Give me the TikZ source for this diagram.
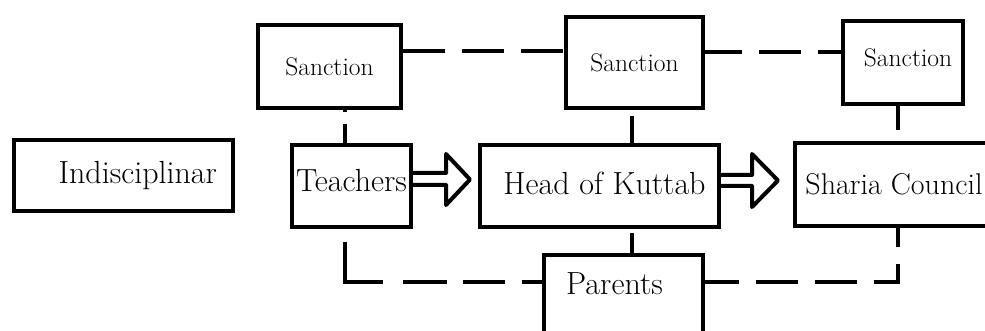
\documentclass[tikz,border=0pt]{standalone}
\usepackage{tikz}

\tikzset{
  txt/.style={font=\fontsize{32}{36}\selectfont},
  stxt/.style={font=\fontsize{25.5}{30}\selectfont},
  box/.style={draw, line width=4pt, inner sep=2pt, txt},
  sancbox/.style={box, stxt},
  dashline/.style={line width=4pt, dash pattern=on 42pt off 17pt},
  blockarrow/.style={line width=4pt, line join=round}
}

\begin{document}
\begin{tikzpicture}[x=1pt, y=-1pt]
\useasboundingbox (0,0) rectangle (985,331);
\clip (0,0) rectangle (985,331);

% boxes
\node[box, text width=187pt, align=right, inner xsep=16pt, minimum height=71pt] (indis) at (123.5,175.5) {Indisciplinar};
\node[sancbox, minimum width=143pt, minimum height=83pt] (sanc1) at (329.5,66.5) {Sanction};
\node[sancbox, minimum width=137pt, minimum height=91pt] (sanc2) at (634.5,62.5) {Sanction};
\node[sancbox, minimum width=120pt, minimum height=83pt,
      label={[stxt, xshift=5pt, yshift=5pt]center:Sanction}] (sanc3) at (903,62.5) {};
\node[box, minimum width=119pt, minimum height=82pt, text depth=11pt] (teach) at (351.5,186) {Teachers};
\node[box, minimum width=239pt, minimum height=82pt,
      label={[txt, xshift=5pt, yshift=3pt]center:Head of Kuttab}] (head) at (599.5,186) {};
\node[box, minimum width=200pt, minimum height=83pt,
      label={[font=\fontsize{30}{34}\selectfont, xshift=-1pt]center:Sharia Council}] (sharia) at (895,184.5) {};
\node[box, minimum width=159pt, minimum height=90pt,
      label={[txt, xshift=-9pt, yshift=16pt]center:Parents}] (parents) at (623.5,300) {};

% block arrows
\draw[blockarrow] ([yshift=13pt]teach.east) -- ++(33,0) -- ++(0,-19) -- ++(24,25.5)
  -- ++(-24,25.5) -- ++(0,-20) -- ++(-33,0);
\draw[blockarrow] ([yshift=11pt]head.east) -- ++(31,0) -- ++(0,-21) -- ++(26,26.5)
  -- ++(-26,26.5) -- ++(0,-21) -- ++(-31,0);

% dashed links
\draw[dashline] ([yshift=15pt]sanc1.east) -- ([yshift=15pt]sanc1.east -| sanc2.west);
\draw[dashline, dash phase=5pt] ([yshift=10.5pt]sanc2.east) -- ([yshift=10.5pt]sanc2.east -| sanc3.west);
\draw[dashline, dash pattern=on 2pt off 12pt on 40pt] ([xshift=15.5pt]sanc1.south) -- ([xshift=15.5pt]sanc1.south |- teach.north);
\draw[dashline, dash phase=53pt] ([xshift=-2.5pt]sanc2.south) -- ([xshift=-2.5pt]sanc2.south |- head.north);
\draw[dashline, dash phase=18pt] ([xshift=-5pt]sanc3.south) -- ([xshift=-5pt]sanc3.south |- sharia.north);
\draw[dashline, dash phase=55pt] ([xshift=32.5pt]head.south) -- ([xshift=32.5pt]head.south |- parents.north);

\coordinate (lturn) at (345,282);
\coordinate (rturn) at (898,282);
\draw[dashline, dash pattern=on 0pt off 13pt on 78pt off 20pt on 44pt off 16pt on 42pt off 17pt on 60pt]
  (teach.south -| lturn) -- (lturn) -- (lturn -| parents.west);
\draw[dashline, dash phase=8pt] (rturn -| parents.east) -- (rturn) -- (rturn |- sharia.south);
\end{tikzpicture}
\end{document}
